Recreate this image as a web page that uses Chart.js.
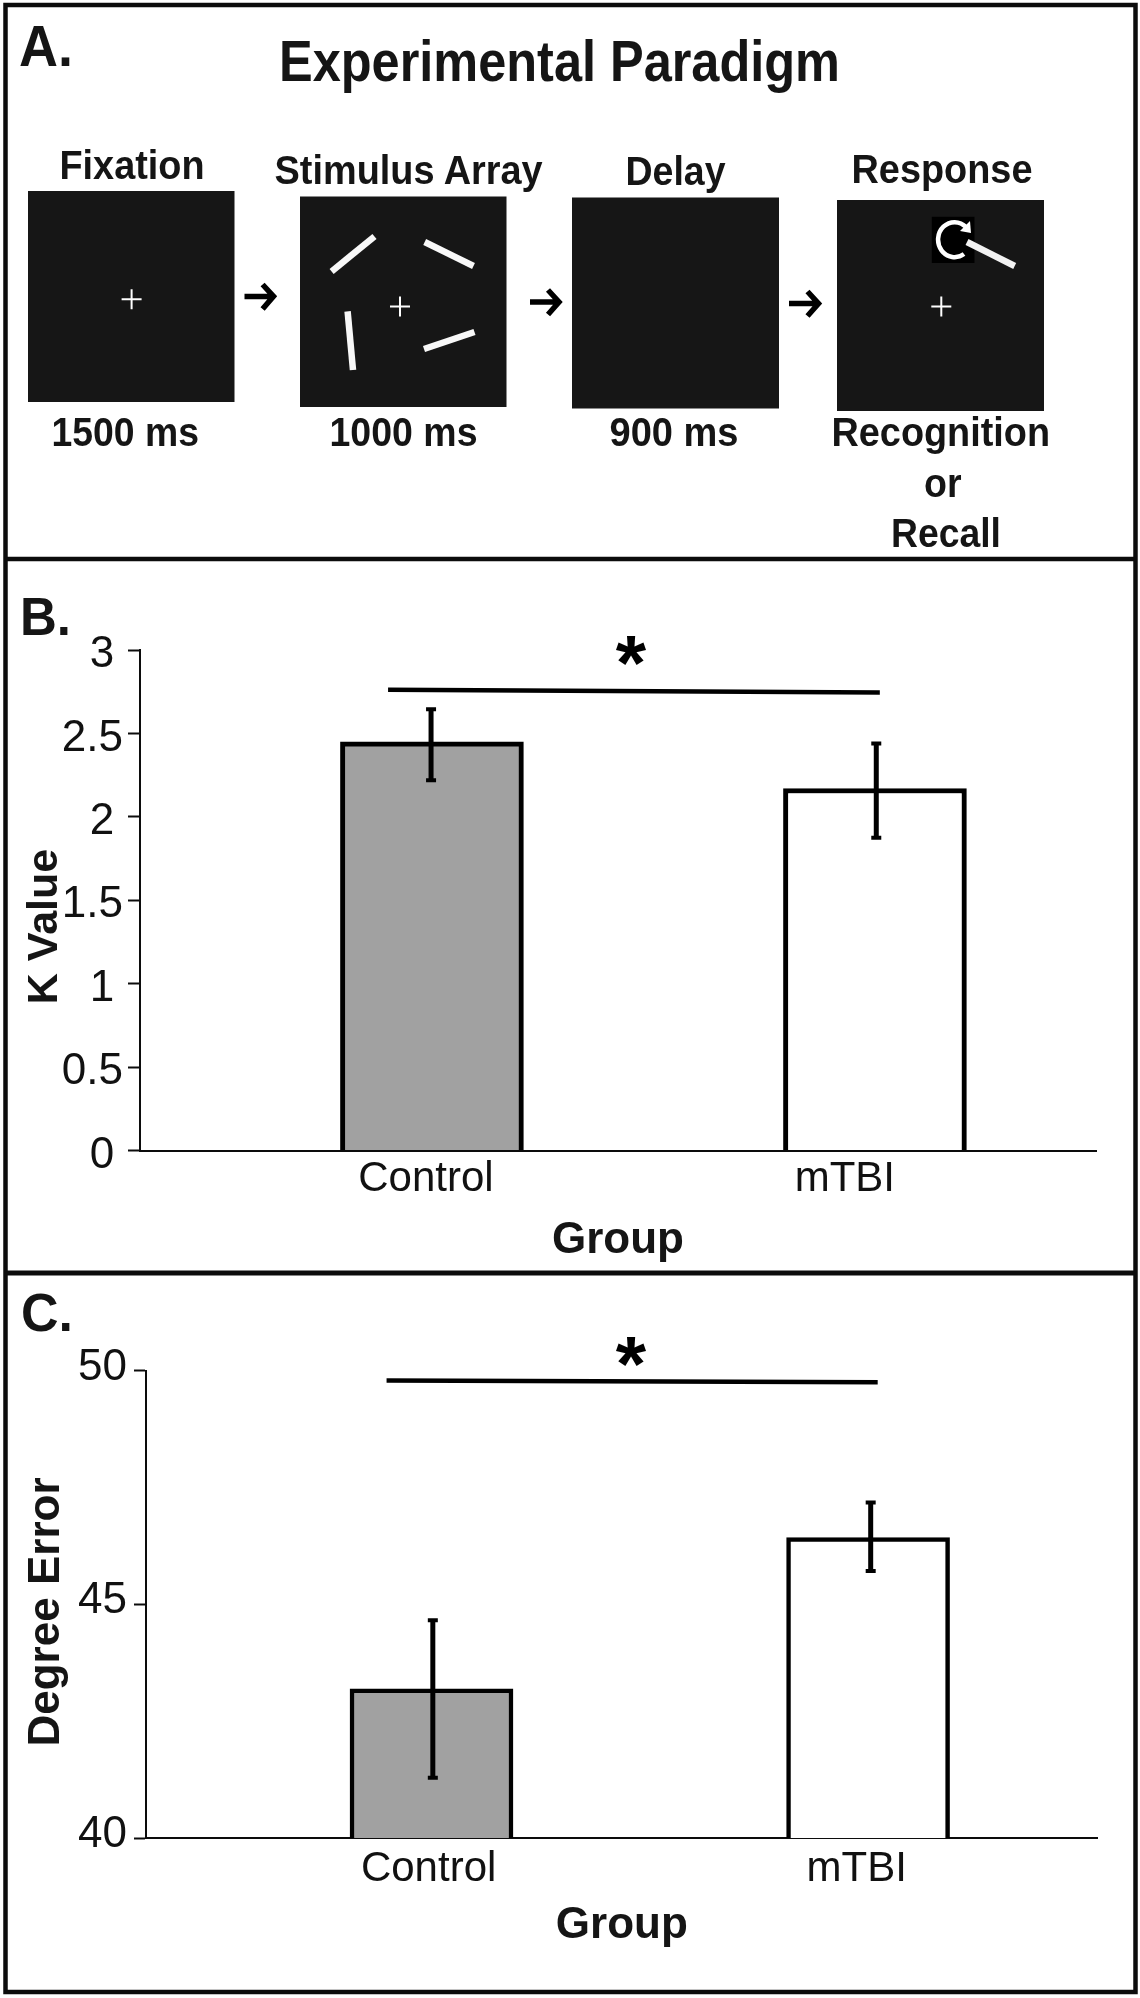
<!DOCTYPE html>
<html>
<head>
<meta charset="utf-8">
<title>Experimental Paradigm</title>
<script src="https://cdn.jsdelivr.net/npm/chart.js@4/dist/chart.umd.min.js"></script>
<style>
    html, body { margin: 0; padding: 0; background: #fff; }
    #page { position: relative; width: 1140px; height: 1998px; overflow: hidden; }
    canvas, svg { position: absolute; left: 0; display: block; }
    svg text { font-family: "Liberation Sans", Arial, sans-serif; font-weight: bold; fill: #151515; }
</style>
</head>
<body>
<div id="page">
    <canvas id="chartB" width="1140" height="708" style="top:562px"></canvas>
    <canvas id="chartC" width="1140" height="714" style="top:1276px"></canvas>
    <svg id="paradigm" width="1140" height="1998" style="top:0" xmlns="http://www.w3.org/2000/svg">
        <!-- 바깥 테두리 -->
        <rect x="5.5" y="5" width="1130" height="1987" fill="none" stroke="#0c0c0c" stroke-width="4.5"/>
        <line x1="5" y1="559" x2="1136" y2="559" stroke="#0c0c0c" stroke-width="4.5"/>
        <line x1="5" y1="1273" x2="1136" y2="1273" stroke="#0c0c0c" stroke-width="5"/>

        <text x="19" y="66" font-size="57" textLength="54" lengthAdjust="spacingAndGlyphs">A.</text>
        <text x="20" y="635" font-size="54" textLength="51" lengthAdjust="spacingAndGlyphs">B.</text>
        <text x="21" y="1331" font-size="54" textLength="52" lengthAdjust="spacingAndGlyphs">C.</text>

        <text x="279" y="81" font-size="57" textLength="561" lengthAdjust="spacingAndGlyphs">Experimental Paradigm</text>

        <!-- 화면 4개 -->
        <rect x="28" y="191" width="206.5" height="211" fill="#161616"/>
        <rect x="300" y="196.5" width="206.5" height="210.5" fill="#161616"/>
        <rect x="572" y="197.5" width="207" height="211" fill="#161616"/>
        <rect x="837" y="200" width="207" height="211" fill="#161616"/>

        <text x="59.5" y="178.5" font-size="41" textLength="145" lengthAdjust="spacingAndGlyphs">Fixation</text>
        <text x="274.6" y="184" font-size="41" textLength="268" lengthAdjust="spacingAndGlyphs">Stimulus Array</text>
        <text x="625.5" y="185" font-size="41" textLength="100" lengthAdjust="spacingAndGlyphs">Delay</text>
        <text x="851.5" y="183" font-size="41" textLength="181" lengthAdjust="spacingAndGlyphs">Response</text>

        <text x="51.5" y="446.4" font-size="41" textLength="147.5" lengthAdjust="spacingAndGlyphs">1500 ms</text>
        <text x="329.5" y="446.4" font-size="41" textLength="148" lengthAdjust="spacingAndGlyphs">1000 ms</text>
        <text x="609.5" y="446.4" font-size="41" textLength="129" lengthAdjust="spacingAndGlyphs">900 ms</text>
        <text x="831.5" y="446.4" font-size="41" textLength="218.5" lengthAdjust="spacingAndGlyphs">Recognition</text>
        <text x="924" y="497" font-size="41" textLength="37.5" lengthAdjust="spacingAndGlyphs">or</text>
        <text x="891" y="547" font-size="41" textLength="110" lengthAdjust="spacingAndGlyphs">Recall</text>

        <!-- 고정점 -->
        <g stroke="#fff" stroke-width="2" fill="none">
            <path d="M121.6 299.3H141.6M131.6 289.3V309.3"/>
            <path d="M390 306.4H410M400 296.4V316.4"/>
            <path d="M931.3 306.4H951.3M941.3 296.4V316.4"/>
        </g>
        <!-- 자극 막대 -->
        <g stroke="#f8f8f8" stroke-width="6.5" fill="none">
            <path d="M331.6 271.4L374.5 236.4"/>
            <path d="M424.7 242L473.5 266"/>
            <path d="M347.6 311.4L353 370"/>
            <path d="M424 349L474.5 332"/>
        </g>
        <!-- 화살표 -->
        <g stroke="#000" stroke-width="5.5" fill="none">
            <path d="M244.5 296.4H273M262.6 284.5L273.5 296.4L262.6 309"/>
            <path d="M530 302H558.5M548 290L559 302L548 314.5"/>
            <path d="M789 303.6H818.5M807.5 291.5L818.5 303.6L807.5 316"/>
        </g>
        <!-- 응답 다이얼 -->
        <rect x="931.8" y="216.8" width="42.7" height="46.2" fill="#000"/>
        <path d="M966 227 A16.5 17.5 0 1 0 964 254" fill="none" stroke="#fff" stroke-width="4.5"/>
        <path d="M960 231L971 233L970 221Z" fill="#fff"/>
        <path d="M967 242L1014.7 266" stroke="#f2f2f2" stroke-width="6.5" fill="none"/>
    </svg>
</div>

<script>
// 패널 B - K Value
const groupsB = ['Control', 'mTBI'];
const groupLabelPosB = [-0.0135, 0.932];
const kValues = [2.45, 2.17];
const kErrLow = [2.22, 1.875];
const kErrHigh = [2.645, 2.44];
const kErrPos = [-0.002, 1.003];
const kTicks = [0, 0.5, 1, 1.5, 2, 2.5, 3];
// 정수 눈금은 원본처럼 왼쪽으로 조금 밀려 있어서 뒤에 얇은 공백을 둔다
const kTickLabels = ['0\u2009', '0.5', '1\u2009', '1.5', '2\u2009', '2.5', '3\u2009'];
const kSigX = [-0.099, 1.011];
const kSigY = [2.761, 2.746];

// 패널 C - Degree Error
const groupsC = ['Control', 'mTBI'];
const groupLabelPosC = [-0.0066, 0.974];
const degreeValues = [43.19, 46.43];
const degreeErrLow = [41.29, 45.71];
const degreeErrHigh = [44.66, 47.18];
const degreeErrPos = [0.003, 1.006];
const degreeTicks = [40, 45, 50];
const degreeTickLabels = ['40', '45', '50'];
const degreeSigX = [-0.103, 1.022];
const degreeSigY = [49.79, 49.75];

const barFills = ['#a1a1a1', '#ffffff'];
const INK = '#0c0c0c';
const FONT = '"Liberation Sans", Arial, sans-serif';

// 오차 막대, 유의 별표, 세로축 제목
const panelExtras = {
    id: 'panelExtras',
    afterDatasetsDraw(chart, args, opts) {
        const { ctx, scales: { x, y } } = chart;
        ctx.save();
        ctx.strokeStyle = '#000';
        opts.errPos.forEach((pos, i) => {
            const px = x.getPixelForValue(pos);
            const hi = y.getPixelForValue(opts.errHigh[i]);
            const lo = y.getPixelForValue(opts.errLow[i]);
            ctx.lineWidth = 5;
            ctx.beginPath();
            ctx.moveTo(px, hi);
            ctx.lineTo(px, lo);
            ctx.stroke();
            ctx.lineWidth = 4;
            ctx.beginPath();
            ctx.moveTo(px - 5, hi);
            ctx.lineTo(px + 5, hi);
            ctx.moveTo(px - 5, lo);
            ctx.lineTo(px + 5, lo);
            ctx.stroke();
        });

        ctx.fillStyle = '#000';
        ctx.font = 'bold 78px ' + FONT;
        ctx.textAlign = 'center';
        ctx.textBaseline = 'alphabetic';
        ctx.fillText('*', opts.starX, y.getPixelForValue(opts.starY));

        ctx.translate(opts.titleX, opts.titleY);
        ctx.rotate(-Math.PI / 2);
        ctx.fillStyle = '#151515';
        ctx.font = 'bold ' + opts.titleSize + 'px ' + FONT;
        ctx.fillText(opts.title, 0, 0);
        ctx.restore();
    }
};

function drawPanel(canvasId, cfg) {
    return new Chart(document.getElementById(canvasId), {
        type: 'bar',
        data: {
            datasets: [
                {
                    data: cfg.values.map((v, i) => ({ x: i, y: v })),
                    backgroundColor: barFills,
                    borderColor: '#000',
                    borderWidth: cfg.barBorder,
                    borderSkipped: cfg.skipped,
                    barThickness: cfg.barSize
                },
                {
                    type: 'line',
                    data: cfg.sigX.map((v, i) => ({ x: v, y: cfg.sigY[i] })),
                    borderColor: '#000',
                    borderWidth: 4.5,
                    pointRadius: 0,
                    tension: 0
                }
            ]
        },
        options: {
            responsive: false,
            animation: false,
            layout: { padding: { top: cfg.padTop, right: cfg.padRight, left: 0, bottom: 0 } },
            plugins: {
                legend: { display: false },
                tooltip: { enabled: false },
                panelExtras: cfg.extras
            },
            scales: {
                x: {
                    type: 'linear',
                    offset: false,
                    min: cfg.xMin,
                    max: cfg.xMax,
                    grid: { display: false },
                    border: { color: INK, width: 2 },
                    afterBuildTicks: s => { s.ticks = cfg.labelPos.map(value => ({ value })); },
                    afterFit: s => { s.height = cfg.xAxisHeight; },
                    ticks: {
                        autoSkip: false,
                        maxRotation: 0,
                        padding: cfg.xTickPad,
                        color: '#111',
                        font: { family: FONT, size: 42 },
                        callback: (v, i) => cfg.groups[i]
                    },
                    title: {
                        display: true,
                        text: 'Group',
                        color: '#151515',
                        font: { family: FONT, size: 44, weight: 'bold' },
                        padding: { top: 0, bottom: cfg.xTitlePad }
                    }
                },
                y: {
                    min: cfg.yMin,
                    max: cfg.yMax,
                    grid: { drawOnChartArea: false, drawTicks: true, tickLength: 12, tickWidth: 2, tickColor: INK },
                    border: { color: INK, width: 2 },
                    afterBuildTicks: s => { s.ticks = cfg.yTicks.map(value => ({ value })); },
                    afterFit: s => { s.width = cfg.yAxisWidth; },
                    ticks: {
                        padding: cfg.yTickPad,
                        labelOffset: cfg.yLabelOffset,
                        color: '#111',
                        font: { family: FONT, size: 44 },
                        callback: (v, i) => cfg.yTickLabels[i]
                    }
                }
            }
        },
        plugins: [panelExtras]
    });
}

drawPanel('chartB', {
    groups: groupsB, labelPos: groupLabelPosB, values: kValues,
    sigX: kSigX, sigY: kSigY, yTicks: kTicks, yTickLabels: kTickLabels,
    barBorder: 5, barSize: 183, skipped: 'bottom',
    padTop: 88, padRight: 44,
    xMin: -0.659, xMax: 1.499, yMin: 0, yMax: 3,
    xAxisHeight: 119.5, xTickPad: -4, xTitlePad: 3,
    yAxisWidth: 140, yTickPad: 5, yLabelOffset: 5,
    extras: {
        errPos: kErrPos, errLow: kErrLow, errHigh: kErrHigh,
        starX: 631, starY: 2.76,
        title: 'K Value', titleSize: 43, titleX: 56.5, titleY: 364.5
    }
});

drawPanel('chartC', {
    groups: groupsC, labelPos: groupLabelPosC, values: degreeValues,
    sigX: degreeSigX, sigY: degreeSigY, yTicks: degreeTicks, yTickLabels: degreeTickLabels,
    barBorder: 4.5, barSize: 163, skipped: [false, 'bottom'],
    padTop: 94.6, padRight: 42.3,
    xMin: -0.654, xMax: 1.526, yMin: 40, yMax: 50,
    xAxisHeight: 152, xTickPad: -2, xTitlePad: 38,
    yAxisWidth: 146, yTickPad: 7, yLabelOffset: -3,
    extras: {
        errPos: degreeErrPos, errLow: degreeErrLow, errHigh: degreeErrHigh,
        starX: 631, starY: 49.56,
        title: 'Degree Error', titleSize: 44, titleX: 58.5, titleY: 336
    }
});
</script>
</body>
</html>
